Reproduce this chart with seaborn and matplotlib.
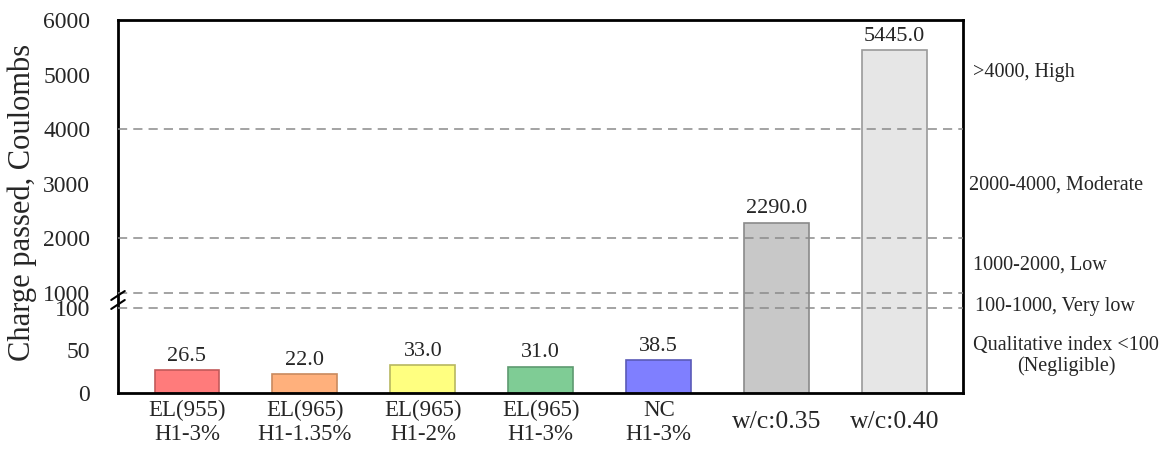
import numpy as np
import pandas as pd
import matplotlib
matplotlib.use('Agg')
import matplotlib.pyplot as plt
import matplotlib.transforms as mtransforms
import seaborn as sns

# dados do grafico
amostras = ["EL(955)\nH1-3%", "EL(965)\nH1-1.35%", "EL(965)\nH1-2%", "EL(965)\nH1-3%",
            "NC\nH1-3%", "w/c:0.35", "w/c:0.40"]
carga = [26.5, 22.0, 33.0, 31.0, 38.5, 2290.0, 5445.0]
cores = ["#FF7B7B", "#FFB07C", "#FFFF80", "#7FCC95", "#7F7FFF", "#C8C8C8", "#E6E6E6"]
bordas = ["#C25A5A", "#C98A5E", "#B8B860", "#5E9A70", "#5A5AB8", "#8A8A8A", "#9A9A9A"]
limites = [100, 1000, 2000, 4000]
y_ticks = [0, 50, 100, 1000, 2000, 3000, 4000, 5000, 6000]
classes = [(">4000, High", 973, 72, "left"),
           ("2000-4000, Moderate", 969, 185, "left"),
           ("1000-2000, Low", 973, 265, "left"),
           ("100-1000, Very low", 975, 306, "left"),
           ("Qualitative index <100\n(Negligible)", 1066, 356, "center")]

sns.set_style("white")
plt.rcParams['font.family'] = ['Liberation Serif', 'DejaVu Serif']


# escala quebrada: 0-100 expandido, 100-1000 comprimido, 1000-6000 normal
def fwd(y):
    y = np.asarray(y, dtype=float)
    return np.where(y <= 100, y * 0.85,
                    np.where(y <= 1000, 85 + (y - 100) * 15 / 900,
                             100 + (y - 1000) * 0.0546))


def inv(p):
    p = np.asarray(p, dtype=float)
    return np.where(p <= 85, p / 0.85,
                    np.where(p <= 100, 100 + (p - 85) * 900 / 15,
                             1000 + (p - 100) / 0.0546))


fig = plt.figure(figsize=(11.69, 4.5), dpi=100)
ax = fig.add_axes([118 / 1169, 57 / 450, 845 / 1169, 373 / 450])
ax.set_yscale('function', functions=(fwd, inv))

df = pd.DataFrame({"amostra": amostras, "carga": carga})
sns.barplot(data=df, x="amostra", y="carga", hue="amostra", palette=cores,
            saturation=1, legend=False, width=0.55, ax=ax, zorder=2)
for p, b in zip(ax.patches, bordas):
    p.set_edgecolor(b)
    p.set_linewidth(1.2)

for c in ax.containers:
    ax.bar_label(c, fmt="%.1f", padding=3, fontsize=16)

for lim in limites:
    ax.axhline(lim, color="#8A8A8A", lw=1.1, ls=(0, (6, 4)), zorder=3)

ax.set_ylim(0, 6000)
ax.set_xlim(-0.585, 6.58)
ax.set_yticks(y_ticks)
ax.set_yticklabels([str(t) for t in y_ticks])
ax.tick_params(axis='y', direction='out', length=13, width=2, labelsize=17, pad=7)
ax.tick_params(axis='x', length=0, labelsize=16.5, pad=5)
ax.set_xlabel("")
ax.set_ylabel("Charge passed, Coulombs", fontsize=22)
ax.yaxis.set_label_coords(-0.096, 0.51)

for lbl in ax.get_xticklabels()[5:]:
    lbl.set_fontsize(18.5)
    lbl.set_transform(lbl.get_transform() +
                      mtransforms.ScaledTranslation(0, -11 / 100, fig.dpi_scale_trans))

for s in ax.spines.values():
    s.set_linewidth(2)
    s.set_color("black")

# marca de quebra no eixo
yb = 1 - (300 - 20) / 373
for dy in (-0.012, 0.012):
    ax.plot([-0.008, 0.008], [yb + dy - 0.012, yb + dy + 0.012], color="black",
            lw=1.5, transform=ax.transAxes, clip_on=False, zorder=5)

for txt, x, y, ha in classes:
    fig.text(x / 1169, 1 - y / 450, txt, ha=ha, va="center", fontsize=14.5, linespacing=1.1)

plt.savefig("out.png", dpi=100)
